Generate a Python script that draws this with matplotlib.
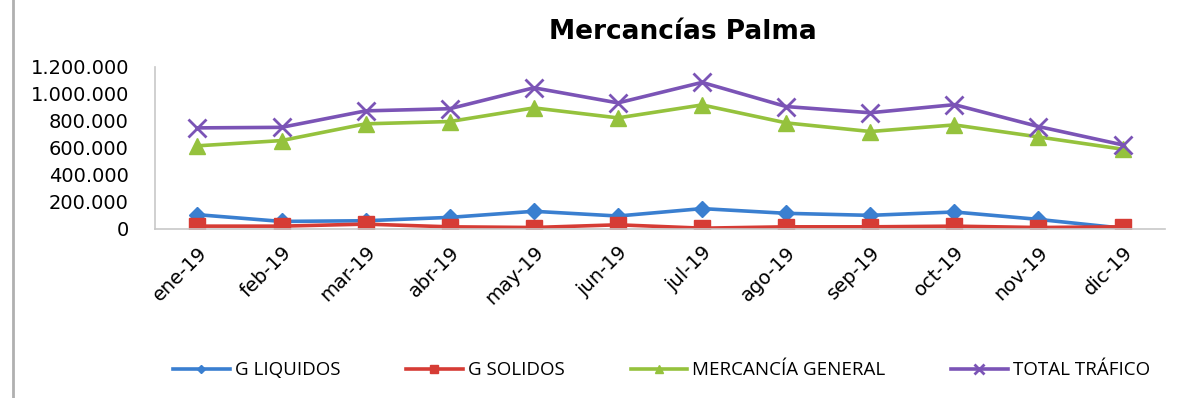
import numpy as np
import matplotlib.pyplot as plt

plt.rcParams['font.family'] = ['DejaVu Sans']

meses = ["ene-19", "feb-19", "mar-19", "abr-19", "may-19", "jun-19",
         "jul-19", "ago-19", "sep-19", "oct-19", "nov-19", "dic-19"]
g_liquidos = [105000, 55000, 60000, 85000, 130000, 95000,
              150000, 115000, 100000, 125000, 70000, 5000]
g_solidos = [20000, 20000, 35000, 15000, 10000, 30000,
             5000, 15000, 15000, 20000, 10000, 15000]
merc_general = [615000, 654000, 778000, 795000, 896000, 822000,
                918000, 785000, 721000, 770000, 681000, 590000]
total_trafico = [748000, 752000, 874000, 890000, 1045000, 933000,
                 1085000, 906000, 860000, 920000, 758000, 622000]
ticks_y = [0, 200000, 400000, 600000, 800000, 1000000, 1200000]


def fmt(v):
    return "{:,}".format(v).replace(",", ".")


fig = plt.figure(figsize=(11.86, 3.98), dpi=100)
ax = fig.add_axes([0.131, 0.425, 0.851, 0.407])
x = np.arange(len(meses))

ax.plot(x, g_liquidos, "-D", color="#3a7fd0", lw=2.6, ms=8, label="G LIQUIDOS")
ax.plot(x, g_solidos, "-s", color="#d63c35", lw=2.6, ms=12, label="G SOLIDOS")
ax.plot(x, merc_general, "-^", color="#95c23d", lw=2.6, ms=12, label="MERCANCÍA GENERAL")
ax.plot(x, total_trafico, "-x", color="#7b54b6", lw=2.6, ms=13, mew=2, label="TOTAL TRÁFICO")

ax.set_xlim(-0.5, 11.5)
ax.set_ylim(0, 1200000)
ax.set_yticks(ticks_y)
ax.set_yticklabels([fmt(v) for v in ticks_y], fontsize=14)
ax.set_xticks(x)
ax.set_xticklabels(meses, rotation=45, ha="right", rotation_mode="anchor", fontsize=14)
ax.tick_params(length=0)
ax.tick_params(axis="y", pad=19)
ax.tick_params(axis="x", pad=10)
for s in ["top", "right"]:
    ax.spines[s].set_visible(False)
for s in ["left", "bottom"]:
    ax.spines[s].set_color("#c8c8c8")
    ax.spines[s].set_linewidth(1.2)

fig.text(0.576, 0.92, "Mercancías Palma", ha="center", va="center",
         fontsize=19, fontweight="bold")

fig.legend(loc="center", bbox_to_anchor=(0.558, 0.07), ncol=4, frameon=False,
           prop={"family": "Open Sans", "size": 13.5}, handlelength=3.0,
           markerscale=0.5, columnspacing=3.5, handletextpad=0.3)

fig.add_artist(plt.Line2D([0.011, 0.011], [0, 1], color="#b0b0b0", lw=2,
                          transform=fig.transFigure))

fig.savefig("out.png", dpi=100)
